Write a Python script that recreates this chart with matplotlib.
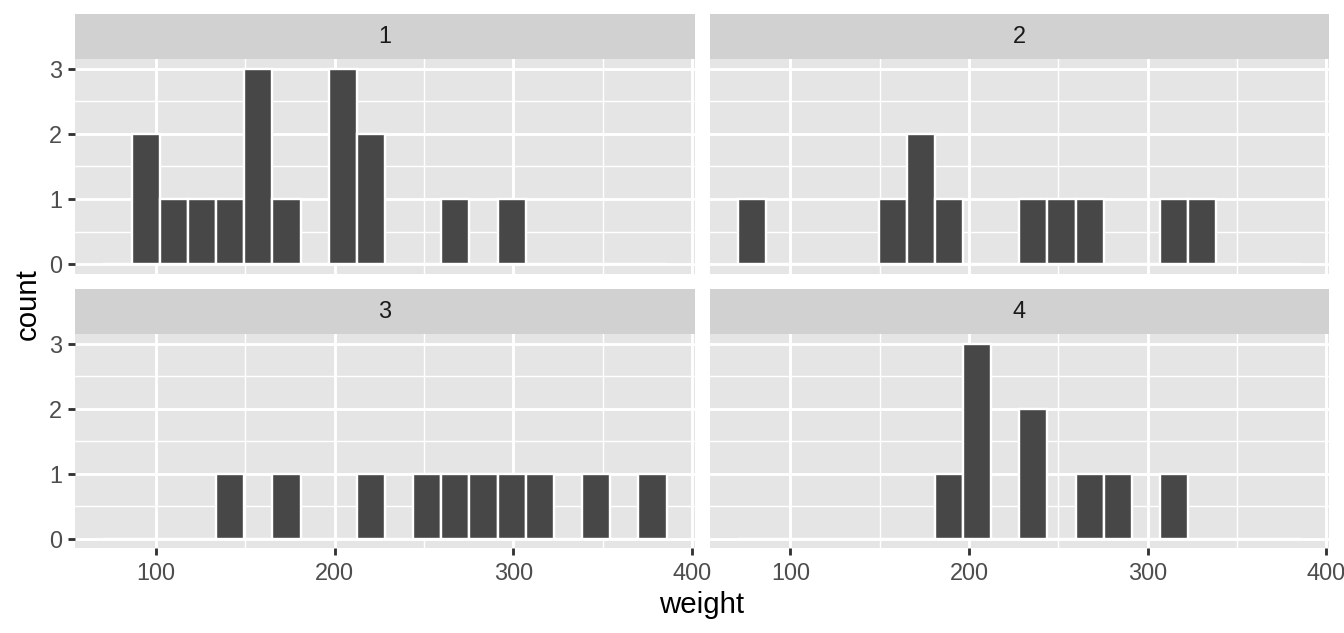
import numpy as np
import matplotlib.pyplot as plt

plt.rcParams['font.family'] = ['Liberation Sans', 'DejaVu Sans']

# histogram counts per facet, 20 bins (ggplot-style breaks)
facets = ['1', '2', '3', '4']
bin_start = 70.82
bin_width = 15.737
counts_1 = [0, 2, 1, 1, 1, 3, 1, 0, 3, 2, 0, 0, 1, 0, 1, 0, 0, 0, 0, 0]
counts_2 = [1, 0, 0, 0, 0, 1, 2, 1, 0, 0, 1, 1, 1, 0, 0, 1, 1, 0, 0, 0]
counts_3 = [0, 0, 0, 0, 1, 0, 1, 0, 0, 1, 0, 1, 1, 1, 1, 1, 0, 1, 0, 1]
counts_4 = [0, 0, 0, 0, 0, 0, 0, 1, 3, 0, 2, 0, 1, 1, 0, 1, 0, 0, 0, 0]
x_ticks = [100, 200, 300, 400]
y_ticks = [0, 1, 2, 3]

all_counts = [counts_1, counts_2, counts_3, counts_4]
n_bins = len(counts_1)
edges = bin_start + np.arange(n_bins + 1) * bin_width
lo, hi = edges[0], edges[-1]
pad = 0.05 * (hi - lo)

W, H, DPI = 1344, 633, 192
fig = plt.figure(figsize=(W / DPI, H / DPI), dpi=DPI)


def box(l, r, t, b):
    return [l / W, 1 - b / H, (r - l) / W, (b - t) / H]


cols = [(75.3, 694.7), (710, 1328.7)]
rows = [(59, 274), (334, 548.3)]
strip_h = 45

for i, name in enumerate(facets):
    r, c = divmod(i, 2)
    l, rr = cols[c]
    t, b = rows[r]
    ax = fig.add_axes(box(l, rr, t, b))
    ax.set_facecolor('#E5E5E5')
    ax.bar(edges[:-1], all_counts[i], width=bin_width, align='edge',
           color='#474747', edgecolor='white', linewidth=0.9, zorder=3)
    ax.set_xlim(lo - pad, hi + pad)
    ax.set_ylim(-0.15, 3.15)
    ax.set_xticks(x_ticks)
    ax.set_yticks(y_ticks)
    ax.set_xticks([150, 250, 350], minor=True)
    ax.set_yticks([0.5, 1.5, 2.5], minor=True)
    ax.grid(which='major', color='white', linewidth=1.07, zorder=1)
    ax.grid(which='minor', color='white', linewidth=0.53, zorder=1)
    ax.set_axisbelow(True)
    for s in ax.spines.values():
        s.set_visible(False)
    ax.tick_params(which='major', length=2.75, width=1.07, color='#333333',
                   labelcolor='#4D4D4D', labelsize=8.8, pad=2.2)
    ax.tick_params(which='minor', length=0)
    if r == 0:
        ax.tick_params(axis='x', bottom=False, labelbottom=False)
    if c == 1:
        ax.tick_params(axis='y', left=False, labelleft=False)

    # facet strip
    sax = fig.add_axes(box(l, rr, t - strip_h, t))
    sax.set_facecolor('#D1D1D1')
    sax.set_xticks([])
    sax.set_yticks([])
    for s in sax.spines.values():
        s.set_visible(False)
    sax.text(0.5, 0.5, name, ha='center', va='center', fontsize=8.8,
             color='#1A1A1A', transform=sax.transAxes)

fig.text(28 / W, 1 - 303.7 / H, 'count', rotation=90, ha='center', va='center',
         fontsize=11, color='black')
fig.text(702 / W, 1 - 605 / H, 'weight', ha='center', va='center',
         fontsize=11, color='black')

fig.savefig('out.png', dpi=DPI)
